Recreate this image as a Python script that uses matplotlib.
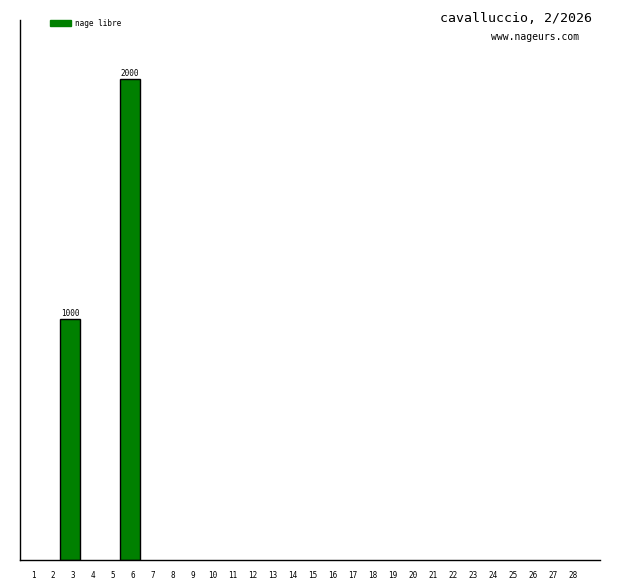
import matplotlib.pyplot as plt
import matplotlib.patches as mpatches
import numpy as np

# swimming distances per day of the month
days = list(range(1, 29))
distances = [0, 0, 1000, 0, 0, 2000] + [0] * 22
series_label = 'nage libre'
title = 'cavalluccio, 2/2026'
site = 'www.nageurs.com'

W, H = 620, 580
fig = plt.figure(figsize=(W / 100, H / 100), dpi=100)
ax = fig.add_axes([20 / W, 20 / H, 580 / W, 540 / H])

mono = 'DejaVu Sans Mono'
index = np.array(days)
# no outline on empty days
edges = [1 if v > 0 else 0 for v in distances]
bars = ax.bar(index, distances, width=1.0, color='#008000', edgecolor='black', linewidth=edges)

# value labels above the non-empty bars
for bar, v in zip(bars, distances):
    if v > 0:
        ax.annotate(str(v), xy=(bar.get_x() + bar.get_width() / 2, v),
                    xytext=(0, 1), textcoords='offset points',
                    ha='center', va='bottom', fontsize=5.5, family=mono)

ax.set_xlim(0.5, 29.5)
ax.set_ylim(0, 2245)
ax.spines['top'].set_visible(False)
ax.spines['right'].set_visible(False)
ax.spines['left'].set_linewidth(1)
ax.spines['bottom'].set_linewidth(1)
ax.set_yticks([])
ax.set_xticks(index + 0.15)
ax.set_xticklabels([str(d) for d in days], fontsize=5.5, family=mono)
ax.tick_params(axis='x', length=0, pad=8)

# legend swatch and label
fig.patches.append(mpatches.Rectangle((50 / W, 1 - 26 / H), 21 / W, 6 / H,
                                      transform=fig.transFigure, color='#008000'))
fig.text(75 / W, 1 - 23 / H, series_label, fontsize=5.5, family=mono, va='center')

fig.text(592 / W, 1 - 18 / H, title, fontsize=9.5, family=mono, ha='right', va='center')
fig.text(579 / W, 1 - 37 / H, site, fontsize=7, family=mono, ha='right', va='center')

fig.savefig('out.png', dpi=100)
